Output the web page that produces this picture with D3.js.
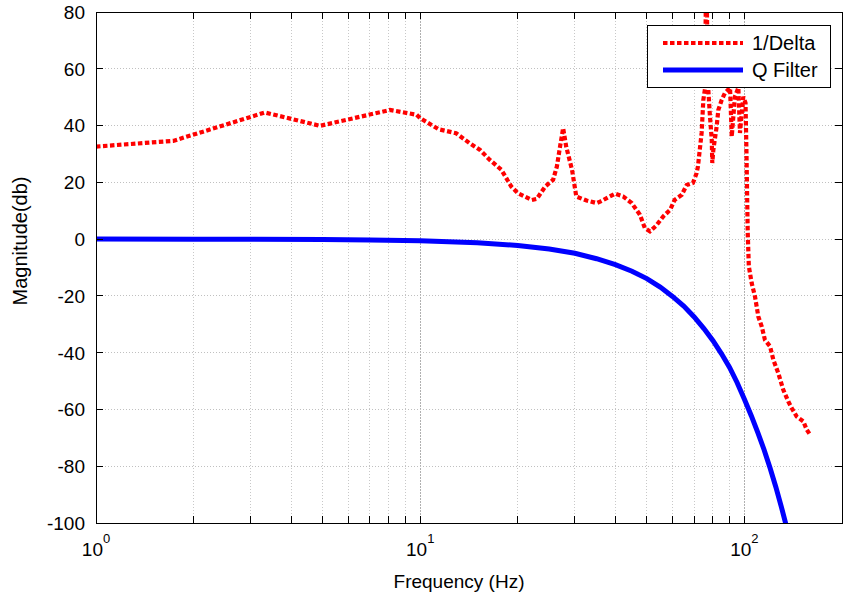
<!DOCTYPE html>
<html>
<head>
<meta charset="utf-8">
<script src="https://cdn.jsdelivr.net/npm/d3@7"></script>
<style>
  html, body { margin: 0; padding: 0; background: #fff; }
  svg { display: block; }
  text { font-family: "Liberation Sans", Arial, Helvetica, sans-serif; fill: #000; }
</style>
</head>
<body>
<svg id="chart" width="843" height="600"></svg>
<script>
// ---- data ----
const freqDelta = [1, 1.73, 3.32, 4.91, 8.07, 9.75, 10, 11.4, 12.9, 14.2, 15.3, 16.4, 17.8, 19.1, 20,
  22.1, 22.9, 24.3, 25.7, 26.4, 27, 27.6, 28.2, 29.4, 30.3, 32.6, 35, 35.9, 39.9, 42.3, 44.9, 47.6,
  49.3, 51.1, 53.4, 56.2, 59, 60.9, 64.1, 66.4, 69.4, 71.2, 71.9, 73.8, 74.7, 75.6, 76.2, 77.4,
  78.3, 79.3, 79.6, 80.2, 82.1, 83.1, 85.1, 87.1, 90.3, 91.4, 93.5, 95.8, 96.9, 99.2, 100.8, 101.5,
  102, 102.4, 103.2, 105.3, 107.8, 110.4, 113.1, 115.7, 120, 122.8, 127.2, 131.8, 136.6, 139.9,
  145, 152, 155.6, 159.4];
const magDelta = [32.6, 34.6, 44.6, 39.9, 45.5, 43.8, 42.6, 38.7, 37.3, 33.8, 31.4, 27.9, 24.4, 18.5, 16.2,
  13.8, 14.2, 18.5, 20.9, 25.6, 32.6, 39.1, 32.6, 24.4, 15, 13.6, 12.7, 13.2, 16, 15, 12.7, 8.6,
  3.9, 2.7, 4.7, 8, 10.3, 13.8, 15.6, 19.1, 19.8, 23.2, 25.6, 37.4, 49, 53, 95, 52.5,
  43.2, 35, 26.8, 31.4, 39.6, 45.5, 49, 51.5, 53.3, 36.1, 50.2, 53.3, 37.4, 50.2, 48, 30,
  14, 2, -9.6, -15.5, -20.2, -27.3, -30.8, -35.5, -37.8, -42.5, -47.2, -53.1, -57.2, -59.5,
  -62.5, -64.2, -67.1, -68.9];

const freqQ = [1, 2, 3, 5, 7, 10, 15, 20, 25, 30, 35, 40, 45, 50, 55, 60, 65, 70, 75, 80, 85, 90,
  95, 100, 105, 110, 115, 120, 125, 130, 135, 140];
const magQ = [0, -0.02, -0.05, -0.14, -0.28, -0.56, -1.26, -2.24, -3.5, -5.0, -6.9, -9.0, -11.3, -13.9,
  -16.9, -20.2, -23.6, -27.4, -31.5, -35.8, -40.4, -45.2, -50.6, -56.4, -62.2, -68.2, -74.2, -80.6,
  -87.3, -94.3, -101.5, -109];

const yTicks = [80, 60, 40, 20, 0, -20, -40, -60, -80, -100];
const xMajorTicks = [1, 10, 100];
const xMajorExp = ["0", "1", "2"];
const seriesNames = ["1/Delta", "Q Filter"];
const xLabel = "Frequency (Hz)";
const yLabel = "Magnitude(db)";

// ---- layout ----
const L = 96, R = 842, T = 12, B = 523;
const svg = d3.select("#chart");

const x = d3.scaleLog().domain([1, 200]).range([L, R]);
const y = d3.scaleLinear().domain([-100, 80]).range([B, T]);

// minor tick positions
const xMinor = [];
for (let d = 1; d <= 100; d *= 10) {
  for (let k = 2; k <= 9; k++) { if (k * d < 200) xMinor.push(k * d); }
}

// grid
const grid = svg.append("g");
grid.selectAll(".gx").data(xMinor).join("line")
  .attr("x1", d => x(d)).attr("x2", d => x(d)).attr("y1", T).attr("y2", B)
  .attr("stroke", "#c8c8c8").attr("stroke-width", 1).attr("stroke-dasharray", "1,2")
  .attr("shape-rendering", "crispEdges");
grid.selectAll(".gxM").data(xMajorTicks.filter(d => d > 1)).join("line")
  .attr("x1", d => x(d)).attr("x2", d => x(d)).attr("y1", T).attr("y2", B)
  .attr("stroke", "#b0b0b0").attr("stroke-width", 1).attr("stroke-dasharray", "2,1")
  .attr("shape-rendering", "crispEdges");
grid.selectAll(".gy").data(yTicks.filter(d => d > -100 && d < 80)).join("line")
  .attr("x1", L).attr("x2", R).attr("y1", d => y(d)).attr("y2", d => y(d))
  .attr("stroke", "#c0c0c0").attr("stroke-width", 1).attr("stroke-dasharray", "1,2")
  .attr("shape-rendering", "crispEdges");

// clip
svg.append("clipPath").attr("id", "clip").append("rect")
  .attr("x", L).attr("y", T).attr("width", R - L).attr("height", B - T);

const line = d3.line().x(d => x(d[0])).y(d => y(d[1]));
const plot = svg.append("g").attr("clip-path", "url(#clip)");

plot.append("path").datum(freqQ.map((f, i) => [f, magQ[i]]))
  .attr("d", line).attr("fill", "none").attr("stroke", "#0000ff").attr("stroke-width", 5);

plot.append("path").datum(freqDelta.map((f, i) => [f, magDelta[i]]))
  .attr("d", line).attr("fill", "none").attr("stroke", "#ff0000").attr("stroke-width", 4.2)
  .attr("stroke-dasharray", "4.5,2.5").attr("stroke-linejoin", "miter");

// axes box
svg.append("rect").attr("x", L).attr("y", T).attr("width", R - L).attr("height", B - T)
  .attr("fill", "none").attr("stroke", "#000").attr("stroke-width", 1).attr("shape-rendering", "crispEdges");

// ticks (inside, all four sides)
const tk = 7;
const ticks = svg.append("g").attr("stroke", "#000").attr("stroke-width", 1).attr("shape-rendering", "crispEdges");
const allX = xMajorTicks.concat(xMinor);
ticks.selectAll(".tb").data(allX).join("line")
  .attr("x1", d => x(d)).attr("x2", d => x(d)).attr("y1", B).attr("y2", B - tk);
ticks.selectAll(".tt").data(allX).join("line")
  .attr("x1", d => x(d)).attr("x2", d => x(d)).attr("y1", T).attr("y2", T + tk);
ticks.selectAll(".tl").data(yTicks).join("line")
  .attr("x1", L).attr("x2", L + tk).attr("y1", d => y(d)).attr("y2", d => y(d));
ticks.selectAll(".tr").data(yTicks).join("line")
  .attr("x1", R).attr("x2", R - tk).attr("y1", d => y(d)).attr("y2", d => y(d));

// y tick labels
svg.append("g").selectAll("text").data(yTicks).join("text")
  .attr("x", L - 11).attr("y", d => y(d)).attr("dy", "0.36em")
  .attr("text-anchor", "end").attr("font-size", 19).text(d => d);

// x tick labels: 10^n
const xl = svg.append("g").selectAll("text").data(xMajorTicks).join("text")
  .attr("x", d => x(d)).attr("y", 556).attr("text-anchor", "middle").attr("font-size", 19);
xl.append("tspan").text("10");
xl.append("tspan").attr("font-size", 13).attr("dy", -13).text((d, i) => xMajorExp[i]);

// axis labels
svg.append("text").attr("x", 459).attr("y", 588).attr("text-anchor", "middle")
  .attr("font-size", 19).text(xLabel);
svg.append("text").attr("transform", "translate(27,241) rotate(-90)")
  .attr("text-anchor", "middle").attr("font-size", 20).text(yLabel);

// legend
const lg = svg.append("g");
lg.append("rect").attr("x", 647).attr("y", 25).attr("width", 183).attr("height", 62)
  .attr("fill", "#fff").attr("stroke", "#000").attr("stroke-width", 1).attr("shape-rendering", "crispEdges");
const lgColors = ["#ff0000", "#0000ff"];
const lgY = [43, 70];
seriesNames.forEach((name, i) => {
  const ln = lg.append("line").attr("x1", 663).attr("x2", 743).attr("y1", lgY[i]).attr("y2", lgY[i])
    .attr("stroke", lgColors[i]).attr("stroke-width", i === 0 ? 4.2 : 5);
  if (i === 0) ln.attr("stroke-dasharray", "4.5,2.5");
  lg.append("text").attr("x", 752).attr("y", lgY[i]).attr("dy", "0.36em")
    .attr("font-size", 20).text(name);
});
</script>
</body>
</html>
